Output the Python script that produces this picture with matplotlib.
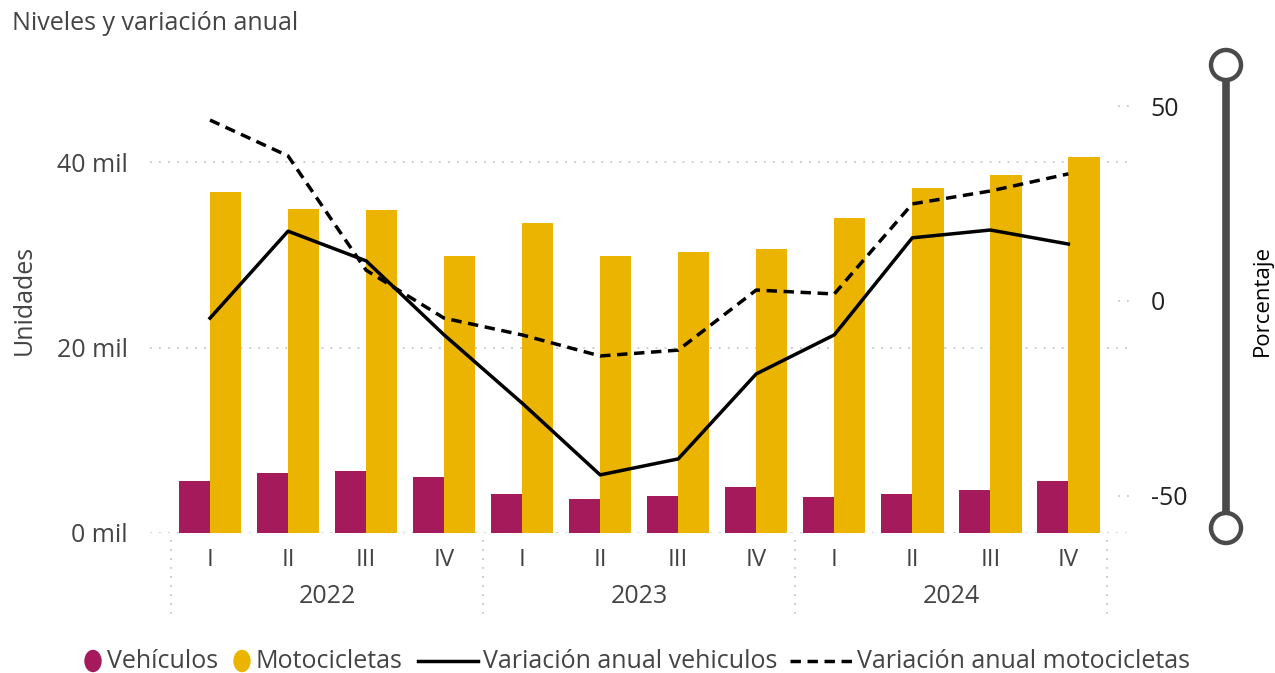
import numpy as np
import matplotlib
matplotlib.use('Agg')
import matplotlib.pyplot as plt
from matplotlib.patches import Circle, Ellipse

plt.rcParams['font.family'] = ['Open Sans', 'DejaVu Sans']

# ---- data ----
trimestres = ['I', 'II', 'III', 'IV'] * 3
anios = ['2022', '2023', '2024']
vehiculos = [5.6, 6.5, 6.7, 6.0, 4.2, 3.7, 4.0, 5.0, 3.9, 4.2, 4.6, 5.6]          # miles
motocicletas = [36.8, 34.9, 34.8, 29.9, 33.4, 29.9, 30.3, 30.6, 34.0, 37.2, 38.6, 40.5]  # miles
var_vehiculos = [-4.4, 17.9, 10.3, -8.7, -26.2, -44.6, -40.5, -18.7, -8.7, 16.2, 18.2, 14.6]
var_motos = [46.4, 37.2, 7.9, -4.4, -8.7, -14.1, -12.6, 2.8, 1.8, 24.9, 28.2, 32.6]
leyenda = ['Vehículos', 'Motocicletas', 'Variación anual vehiculos',
           'Variación anual motocicletas']

c_veh = '#A41A5B'
c_moto = '#EBB400'
c_txt = '#444444'
c_grid = '#C8C8C8'
dash = (0, (3.0, 1.9))
lw_line = 2.5

W, H = 1275, 673
fig = plt.figure(figsize=(W / 100, H / 100), dpi=100)

# plot area in pixels: x 150..1130, y 60..533
ax = fig.add_axes([150 / W, (H - 533) / H, 980 / W, 473 / H])
x = np.arange(len(trimestres))
bw = 0.4
ax.bar(x - bw / 2, vehiculos, bw, color=c_veh, zorder=2)
ax.bar(x + bw / 2, motocicletas, bw, color=c_moto, zorder=2)
ax.set_xlim(-0.769, 11.79)
ax.set_ylim(0, 51.0)
ax.set_yticks([0, 20, 40])
ax.set_yticklabels(['0 mil', '20 mil', '40 mil'])
for yv in [0, 20, 40]:
    ax.axhline(yv, color=c_grid, lw=1.3, ls=(0, (1, 4)), zorder=0)
for s in ax.spines.values():
    s.set_visible(False)
ax.tick_params(axis='y', length=0, labelsize=18, labelcolor=c_txt, pad=16)
ax.set_xticks(x)
ax.set_xticklabels(trimestres)
ax.tick_params(axis='x', length=0, labelsize=17.5, labelcolor=c_txt, pad=11)

# year labels and separators
tr = ax.get_xaxis_transform()
for i, a in enumerate(anios):
    ax.text(4 * i + 1.5, -0.135, a, transform=tr, ha='center', va='center',
            fontsize=18, color=c_txt)
for sx in [-0.5, 3.5, 7.5, 11.5]:
    ax.plot([sx, sx], [-0.015, -0.175], transform=tr, clip_on=False,
            color=c_grid, lw=1.3, ls=(0, (1, 4)))

# right axis
ax2 = ax.twinx()
ax2.set_ylim(-59.5, 61.8)
ax2.plot(x, var_vehiculos, color='black', lw=lw_line, zorder=3)
ax2.plot(x, var_motos, color='black', lw=lw_line, ls=dash, zorder=3)
ax2.set_yticks([-50, 0, 50])
ax2.set_yticklabels(['-50', '0', '50'])
ax2.tick_params(axis='y', length=0, labelsize=18, labelcolor='#222222', pad=15)
for s in ax2.spines.values():
    s.set_visible(False)
tr2 = ax2.get_yaxis_transform()
for yv in [-50, 0, 50]:
    ax2.plot([0.988, 1.0], [yv, yv], transform=tr2, clip_on=False,
             color=c_grid, lw=1.3, ls=(0, (1, 4)))

# overlay in pixel coordinates: slider, titles, legend
ov = fig.add_axes([0, 0, 1, 1], zorder=-1)
ov.set_xlim(0, W)
ov.set_ylim(H, 0)
ov.axis('off')
ov.plot([1226, 1226], [80, 513], color='#4A4A4A', lw=5.5, solid_capstyle='butt')
for cy in [65, 528]:
    ov.add_patch(Circle((1226, cy), 15, facecolor='white', edgecolor='#4A4A4A', lw=3.2))

ov.text(12, 23, 'Niveles y variación anual', fontsize=18, color=c_txt,
        ha='left', va='center')
ov.text(24, 300, 'Unidades', fontsize=18, color=c_txt, rotation=90,
        ha='center', va='center')
ov.text(1262, 300, 'Porcentaje', fontsize=16, color='black', rotation=90,
        ha='center', va='center')

# legend
ly = 661
ov.add_patch(Ellipse((93, ly), 16, 21, color=c_veh))
ov.add_patch(Ellipse((242, ly), 16, 21, color=c_moto))
ov.plot([418, 478], [ly, ly], color='black', lw=lw_line)
ov.plot([790, 852], [ly, ly], color='black', lw=lw_line, ls=dash)
for tx, lab in zip([107, 256, 483, 857], leyenda):
    ov.text(tx, ly, lab, fontsize=18, color=c_txt, ha='left', va='center')

fig.savefig('out.png', dpi=100)
